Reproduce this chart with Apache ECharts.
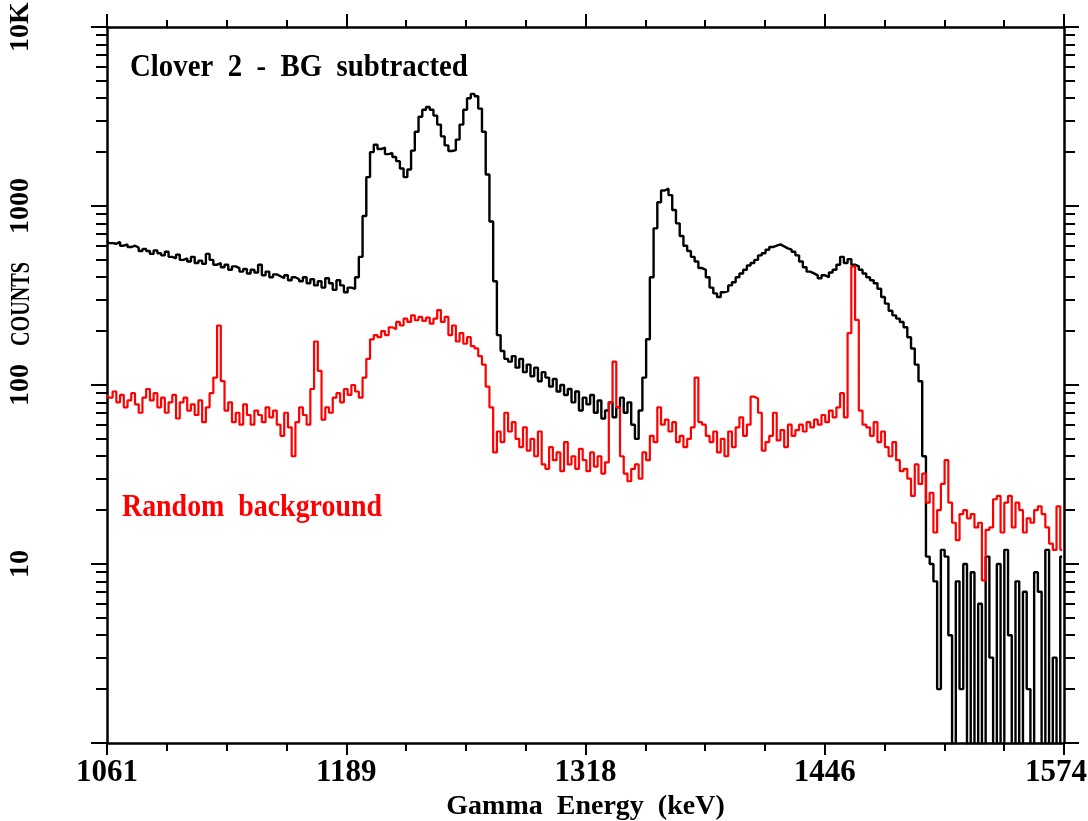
<!DOCTYPE html>
<html>
<head>
<meta charset="utf-8">
<script src="https://cdn.jsdelivr.net/npm/echarts@6/dist/echarts.min.js"></script>
<style>
  html, body { margin: 0; padding: 0; background: #ffffff; overflow: hidden; }
  #chart { width: 1088px; height: 821px; }
</style>
</head>
<body>
<div id="chart"></div>
<script>
// Energy window and binning (keV)
const E_START = 1061;
const E_END = 1574;
const BIN_KEV = 2;

// Tick labels
const xTickLabels = ['1061', '1189', '1318', '1446', '1574'];
const yTickValues = [1, 10, 100, 1000, 10000];
const yTickLabels = ['', '10', '100', '1000', '10K'];

// Clover 2, background-subtracted counts per 2 keV bin (values below 1 sit under the axis floor)
const cloverCounts = [
  640, 620, 615, 630, 600, 610, 590, 600, 585, 560,
  575, 560, 540, 565, 545, 530, 555, 520, 510, 535,
  500, 510, 490, 520, 480, 495, 475, 540, 500, 470,
  480, 455, 470, 440, 460, 450, 430, 445, 420, 440,
  425, 470, 410, 430, 400, 415, 405, 395, 410, 385,
  400, 390, 380, 400, 370, 390, 360, 380, 350, 395,
  370, 340, 385, 360, 330, 350, 345, 400, 520, 880,
  1450, 2000, 2200, 2080, 2120, 1950, 1980, 1880, 1780, 1620,
  1450, 1600, 2040, 2600, 3150, 3450, 3570, 3450, 3200, 2850,
  2450, 2180, 2030, 2050, 2350, 2850, 3450, 4000, 4230, 4100,
  3500, 2600, 1500, 820, 380, 190, 155, 140, 135, 145,
  125, 140, 118, 130, 112, 125, 105, 118, 110, 98,
  108, 92, 100, 88, 95, 80, 92, 72, 85, 78,
  88, 70, 82, 65, 72, 80, 66, 75, 85, 70,
  80, 60, 50, 72, 110, 180, 400, 750, 1050, 1220,
  1250, 1150, 950, 800, 680, 600, 560, 520, 490, 450,
  440, 400, 350, 325, 310, 330, 335, 360, 375, 400,
  420, 440, 465, 480, 500, 530, 545, 570, 590, 600,
  610, 595, 580, 570, 555, 530, 490, 455, 430, 420,
  410, 395, 410, 400, 425, 440, 470, 520, 480, 505,
  470, 460, 440, 420, 400, 385, 370, 345, 310, 285,
  260, 245, 235, 225, 210, 185, 160, 130, 105, 40,
  11, 10, 8, 2, 12, 11, 4, 0.5, 8, 2,
  10, 0.5, 9, 0.5, 6, 0.5, 11, 3, 0.5, 10,
  0.5, 12, 4, 0.5, 8, 0.5, 7, 2, 0.5, 9,
  7, 0.5, 12, 0.5, 3, 0.5, 11
];

// Random (uncorrelated) background counts per 2 keV bin
const randomCounts = [
  88, 85, 92, 80, 88, 75, 82, 90, 78, 70,
  85, 95, 82, 90, 75, 85, 70, 80, 88, 65,
  80, 85, 72, 78, 68, 82, 62, 75, 90, 110,
  215, 105, 72, 80, 62, 70, 60, 78, 68, 60,
  72, 68, 62, 75, 66, 72, 60, 52, 70, 58,
  40, 62, 75, 68, 60, 95, 175, 120, 64, 75,
  70, 85, 90, 80, 95, 88, 100, 92, 85, 110,
  140, 180, 190, 185, 200, 190, 210, 205, 225, 215,
  235, 225, 245, 230, 240, 228, 238, 220, 235, 262,
  225, 240, 190, 215, 175, 195, 170, 185, 165, 160,
  145, 130, 98, 75, 42, 55, 48, 70, 55, 62,
  50, 45, 58, 43, 50, 40, 55, 36, 34, 45,
  38, 42, 33, 48, 36, 40, 34, 44, 38, 33,
  42, 35, 40, 32, 37, 80, 135, 75, 40, 32,
  29, 34, 36, 30, 42, 38, 52, 48, 75, 60,
  64, 55, 62, 48, 52, 45, 50, 58, 110, 62,
  60, 52, 48, 55, 42, 50, 40, 55, 45, 58,
  66, 52, 60, 86, 84, 70, 43, 48, 52, 70,
  49, 56, 45, 60, 52, 56, 60, 55, 62, 58,
  64, 60, 68, 62, 72, 66, 75, 90, 66, 195,
  460, 231, 72, 60, 58, 52, 62, 48, 55, 45,
  40, 48, 38, 33, 34, 30, 24, 36, 28, 32,
  22, 25, 15, 20, 28, 38, 22, 17, 13.6, 19,
  20, 18, 19, 16, 17, 8.1, 15.5, 16, 23, 24,
  15, 22, 24, 16, 22, 20, 15, 18, 17, 20,
  21, 19, 16, 13, 12, 21, 12
];

const FONT = 'Liberation Serif';
const SPAN = E_END - E_START;              // x axis runs as an offset from E_START
const X_STEP = SPAN / (xTickLabels.length - 1);

// log-decade minor tick positions (2..9 within each decade)
const minorY = [];
for (let d = 1; d < 10000; d *= 10) {
  for (let k = 2; k <= 9; k++) minorY.push(k * d);
}

const toPairs = arr => arr.map((c, i) => [i * BIN_KEV, c]);

function xAxisCfg(pos, showLabels, majorLen, minorLen) {
  return {
    type: 'value', position: pos, min: 0, max: SPAN, interval: X_STEP,
    axisLine: { show: true, onZero: false, lineStyle: { color: '#000', width: 2.5 } },
    axisTick: { show: true, inside: false, length: majorLen, lineStyle: { color: '#000', width: 2 } },
    minorTick: { show: true, splitNumber: 4, length: minorLen, lineStyle: { color: '#000', width: 2 } },
    splitLine: { show: false },
    axisLabel: {
      show: showLabels, margin: 14,
      fontFamily: FONT, fontWeight: 'bold', fontSize: 31, color: '#000',
      formatter: v => {
        const idx = Math.round(v / X_STEP);
        // keep the last label inside the canvas edge
        return idx === xTickLabels.length - 1 ? '{last|' + xTickLabels[idx] + '}' : xTickLabels[idx];
      },
      rich: {
        last: { fontFamily: FONT, fontWeight: 'bold', fontSize: 31, color: '#000', padding: [0, 16, 0, 0] }
      }
    },
    name: showLabels ? 'Gamma  Energy  (keV)' : '',
    nameLocation: 'middle', nameGap: 44,
    nameTextStyle: { fontFamily: FONT, fontWeight: 'bold', fontSize: 28, color: '#000' }
  };
}

function yAxisCfg(pos, major, showLabels, len) {
  const cfg = {
    type: 'log', logBase: 10, position: pos, min: 1, max: 10000,
    axisLine: { show: major, onZero: false, lineStyle: { color: '#000', width: 2.5 } },
    axisTick: { show: true, inside: false, length: len, lineStyle: { color: '#000', width: 2 } },
    splitLine: { show: false },
    axisLabel: {
      show: showLabels, rotate: 90, margin: 72,
      fontFamily: FONT, fontWeight: 'bold', fontSize: 28, color: '#000',
      formatter: v => {
        const idx = yTickValues.findIndex(t => Math.abs(t - v) / t < 1e-6);
        return idx >= 0 ? yTickLabels[idx] : '';
      }
    }
  };
  if (!major) {
    cfg.axisTick.customValues = minorY;
    cfg.axisLabel.show = false;
  }
  return cfg;
}

const chart = echarts.init(document.getElementById('chart'), null, { renderer: 'canvas' });

chart.setOption({
  backgroundColor: '#ffffff',
  animation: false,
  grid: { left: 107, right: 24, top: 27, bottom: 78, containLabel: false, outerBoundsMode: 'none' },
  xAxis: [
    xAxisCfg('bottom', true, 12, 8),
    xAxisCfg('top', false, 13, 7)
  ],
  yAxis: [
    yAxisCfg('left', true, true, 16),
    yAxisCfg('left', false, false, 11),
    yAxisCfg('right', true, false, 15),
    yAxisCfg('right', false, false, 11)
  ],
  graphic: [
    {
      type: 'text', left: 130, top: 52, scaleX: 0.93, silent: true,
      style: { text: 'Clover  2  -  BG  subtracted', fill: '#000',
               font: `bold 31px "${FONT}"` }
    },
    {
      type: 'text', left: 122, top: 492, scaleX: 0.9, silent: true,
      style: { text: 'Random  background', fill: '#ff0000',
               font: `bold 31px "${FONT}"` }
    },
    {
      type: 'text', x: 22, y: 304, rotation: Math.PI / 2, scaleX: 0.72, silent: true,
      style: { text: 'COUNTS', fill: '#000', align: 'center', verticalAlign: 'middle',
               font: `bold 28px "${FONT}"` }
    }
  ],
  series: [
    {
      name: 'Clover 2 - BG subtracted', type: 'line', step: 'middle',
      xAxisIndex: 0, yAxisIndex: 0, clip: true, showSymbol: false, symbol: 'none',
      lineStyle: { color: '#000000', width: 2.4 },
      data: toPairs(cloverCounts), z: 3
    },
    {
      name: 'Random background', type: 'line', step: 'middle',
      xAxisIndex: 0, yAxisIndex: 0, clip: true, showSymbol: false, symbol: 'none',
      lineStyle: { color: '#ff0000', width: 2.2 },
      data: toPairs(randomCounts), z: 4
    }
  ]
});
</script>
</body>
</html>
